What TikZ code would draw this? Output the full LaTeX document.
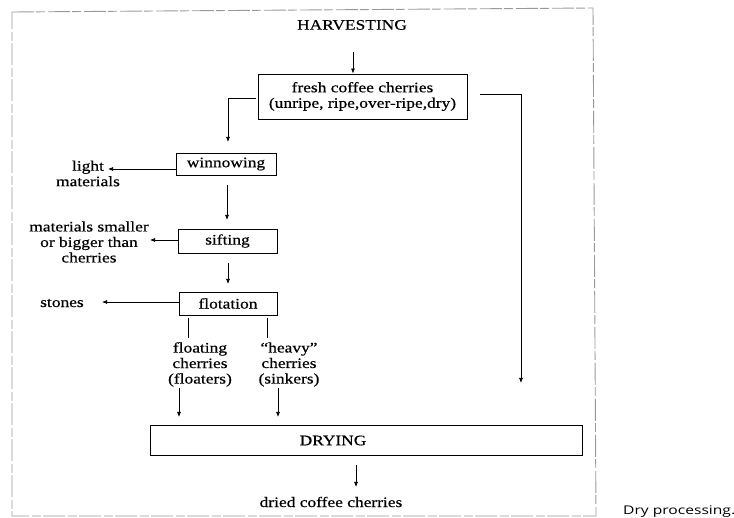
\documentclass[tikz,border=0pt]{standalone}
\usepackage{fontspec}
\setmainfont{Liberation Serif}[FakeStretch=1.2, FakeBold=0.5]
\newfontfamily\capfont{Open Sans}
\usetikzlibrary{arrows.meta}

\tikzset{
  stagebox/.style={draw, line width=0.9pt, inner sep=0pt},
  flow/.style={line width=0.7pt, -{Latex[length=5pt,width=4pt]}},
  plain/.style={line width=0.7pt},
  txt/.style={font=\fontsize{14.5}{15.5}\selectfont, align=center, inner sep=0pt},
  framestyle/.style={gray!80, line width=0.9pt, dash pattern=on 22pt off 2pt on 9pt off 3pt},
}

\begin{document}
\begin{tikzpicture}[x=1pt, y=-1pt]
\useasboundingbox (0,0) rectangle (734,518);

% outer frame
\draw[framestyle] (12,12) -- (593,8) -- (596,516) -- (12,516) -- cycle;

% stages
\node[txt] (harv) at (352,25) {HARVESTING};
\node[stagebox, txt, minimum width=209pt, minimum height=45pt] (fresh) at (362.5,96.5)
  {fresh coffee cherries\\(unripe, ripe,over-ripe,dry)};
\node[stagebox, txt, minimum width=100pt, minimum height=22pt] (winn) at (226,164) {winnowing};
\node[stagebox, txt, minimum width=99pt, minimum height=24pt] (sift) at (227.5,241) {sifting};
\node[stagebox, txt, minimum width=98pt, minimum height=23pt] (flot) at (228,303.5) {flotation};
\node[stagebox, minimum width=432pt, minimum height=30pt] (dry) at (366,440) {};
\node[txt] (drylabel) at (333,440.5) {DRYING};

% by-products and outputs
\node[txt] (light) at (88,173.5) {light\\materials};
\node[txt] (sieved) at (89,242) {materials smaller\\or bigger than\\cherries};
\node[txt] (stones) at (62,303) {stones};
\node[txt] (floaters) at (200,364.5) {floating\\cherries\\(floaters)};
\node[txt] (sinkers) at (289,364.5) {“heavy”\\cherries\\(sinkers)};
\node[txt] (dried) at (331,502) {dried coffee cherries};

\node[font=\capfont\fontsize{12}{12}\selectfont, anchor=base west, inner sep=0pt] (caption)
  at (623,514.5) {\scalebox{1.3}[1]{Dry processing.}};

% connector end points
\coordinate (hA) at (353,52);
\coordinate (lA) at (256,98);
\coordinate (lB) at (228,142);
\coordinate (rA) at (480,94);
\coordinate (rB) at (521,383);
\coordinate (wA) at (227,185);
\coordinate (wB) at (227,220);
\coordinate (lightTip) at (108,169);
\coordinate (siftTip) at (150,240);
\coordinate (sA) at (228,263);
\coordinate (sB) at (228,284);
\coordinate (stoneTip) at (102,302);
\coordinate (fa1) at (188,318);
\coordinate (fa2) at (188,338);
\coordinate (fb1) at (267,318);
\coordinate (fb2) at (267,338);
\coordinate (flA) at (179,388);
\coordinate (flB) at (179,417);
\coordinate (skA) at (278,388);
\coordinate (skB) at (278,417);
\coordinate (dA) at (356,465);
\coordinate (dB) at (356,487);

% connectors
\draw[flow] (hA) -- (hA |- fresh.north);
\draw[flow] (lA) -- (lA -| lB) -- (lB);
\draw[flow] (rA) -- (rA -| rB) -- (rB);
\draw[flow] (wA) -- (wB);
\draw[flow] (winn.west |- lightTip) -- (lightTip);
\draw[flow] (sift.west |- siftTip) -- (siftTip);
\draw[flow] (sA) -- (sB);
\draw[flow] (flot.west |- stoneTip) -- (stoneTip);
\draw[plain] (fa1) -- (fa2);
\draw[plain] (fb1) -- (fb2);
\draw[flow] (flA) -- (flB);
\draw[flow] (skA) -- (skB);
\draw[flow] (dA) -- (dB);
\end{tikzpicture}
\end{document}
